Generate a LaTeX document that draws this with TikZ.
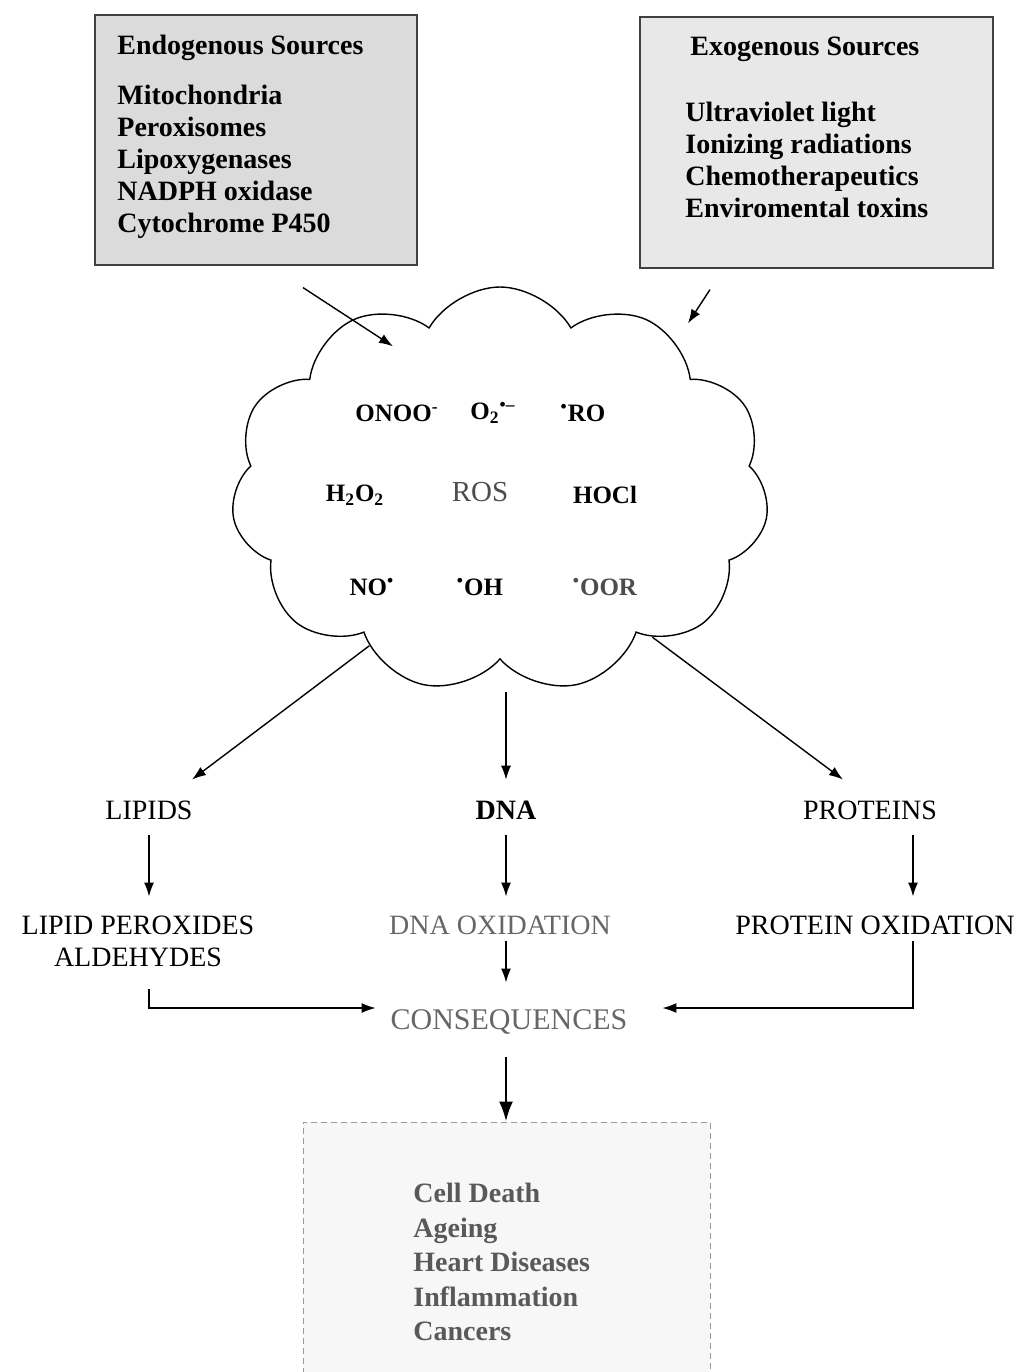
\documentclass[tikz,border=0pt]{standalone}
\usepackage{fontspec}
\setmainfont{Liberation Serif}
\usetikzlibrary{shapes}
\usetikzlibrary{arrows.meta}
\usetikzlibrary{calc,positioning}

\begin{document}
\begin{tikzpicture}[x=0.5pt, y=-0.5pt, >={Latex[length=7pt, width=5pt]}]
	\tikzstyle{source}=[draw=black!75, fill=black!14, rectangle, line width=0.6pt]
	\tikzstyle{list}=[inner sep=0pt, align=left, anchor=north west, font=\bfseries\fontsize{14}{16}\selectfont]
	\tikzstyle{species}=[font=\bfseries\fontsize{12.5}{14}\selectfont]
	\tikzstyle{target}=[font=\fontsize{14}{16}\selectfont, align=center]
	\tikzstyle{flow}=[->, line width=0.7pt]

	\useasboundingbox (0,0) rectangle (1024,1372);

	% sources
	\node[source, minimum width=161pt, minimum height=125pt] (endo) at (256,140) {};
	\node[source, fill=black!9, minimum width=176.5pt, minimum height=125.5pt] (exo) at (816.5,142.5) {};
	\node[list] (endotext) at (117,35) {Endogenous Sources\\[9pt] Mitochondria\\ Peroxisomes\\ Lipoxygenases\\ NADPH oxidase\\ Cytochrome P450};
	\node[list] (exotext) at (685,37) {\hspace{2.5pt}Exogenous Sources\\[17pt] Ultraviolet light\\ Ionizing radiations\\ Chemotherapeutics\\ Enviromental toxins};

	% ROS cloud
	\node[cloud, draw, line width=0.7pt, cloud puffs=11, cloud puff arc=120, cloud ignores aspect, minimum width=269pt, minimum height=203pt] (ros) at (500,490) {};
	\node[species] (onoo) at (397,413) {ONOO\textsuperscript{-}};
	\node[species] (superox) at (493,413) {O\textsubscript{2}\textsuperscript{\textbullet--}};
	\node[species] (ro) at (583,413) {\textsuperscript{\textbullet}RO};
	\node[species] (hyperox) at (355,495) {H\textsubscript{2}O\textsubscript{2}};
	\node[species, font=\fontsize{14.5}{16}\selectfont, text=black!70] (rostxt) at (480,492) {ROS};
	\node[species] (hocl) at (605,495) {HOCl};
	\node[species] (no) at (372,587) {NO\textsuperscript{\textbullet}};
	\node[species] (oh) at (480,587) {\textsuperscript{\textbullet}OH};
	\node[species, text=black!70] (oor) at (605,587) {\textsuperscript{\textbullet}OOR};

	% targets
	\node[target] (lipids) at (149,810) {LIPIDS};
	\node[target] (dna) at (506,810) {\textbf{DNA}};
	\node[target] (proteins) at (870,810) {PROTEINS};
	\node[target] (lipox) at (138,941) {LIPID PEROXIDES\\ALDEHYDES};
	\node[target, text=black!60] (dnaox) at (500,925) {DNA OXIDATION};
	\node[target] (protox) at (875,925) {PROTEIN OXIDATION};
	\node[target, font=\fontsize{15}{17}\selectfont, text=black!60] (conseq) at (509,1022) {CONSEQUENCES};

	% effects
	\node[rectangle, draw=black!40, densely dashed, fill=black!3, minimum width=203.5pt, minimum height=125pt] (effects) at (506.5,1247) {};
	\node[list, text=black!65, font=\bfseries\fontsize{14}{17.25}\selectfont] (effectstext) at (413,1183) {Cell Death\\ Ageing\\ Heart Diseases\\ Inflammation\\ Cancers};

	\draw[flow] ([xshift=23.5pt, yshift=-11pt]endo.south) -- ([xshift=-53.5pt, yshift=-30pt]ros.north);
	\draw[flow] ([xshift=-53.25pt, yshift=-10.5pt]exo.south) -- ([xshift=94pt, yshift=-18.5pt]ros.north);
	\draw[flow] (ros.230) -- ([xshift=21.5pt, yshift=7pt]lipids.north);
	\draw[flow] ([yshift=-16pt]ros.south -| dna) -- ([yshift=7pt]dna.north);
	\draw[flow] (ros.-44) -- ([xshift=-13.5pt, yshift=7pt]proteins.north);
	\draw[flow] ([yshift=-4.5pt]lipids.south) -- ([yshift=6pt]lipids.south |- lipox.north);
	\draw[flow] ([yshift=-4.5pt]dna.south) -- ([yshift=6pt]dna.south |- dnaox.north);
	\draw[flow] ([xshift=21.5pt, yshift=-4.5pt]proteins.south) -- ([xshift=21.5pt, yshift=6pt]proteins.south |- protox.north);
	\draw[flow] (dnaox.south -| dna) -- ([yshift=10pt]conseq.north -| dna);
	\draw[flow] ([yshift=-8pt]lipox.south -| lipids) |- ([xshift=-4pt, yshift=7pt]conseq.west);
	\draw[flow] ([xshift=19pt]protox.south) |- ([xshift=14pt, yshift=7pt]conseq.east);
	\draw[-{Latex[length=10pt, width=7pt]}, line width=1.4pt] ([yshift=-8pt]conseq.south -| dna) -- (effects.north -| dna);
\end{tikzpicture}
\end{document}
